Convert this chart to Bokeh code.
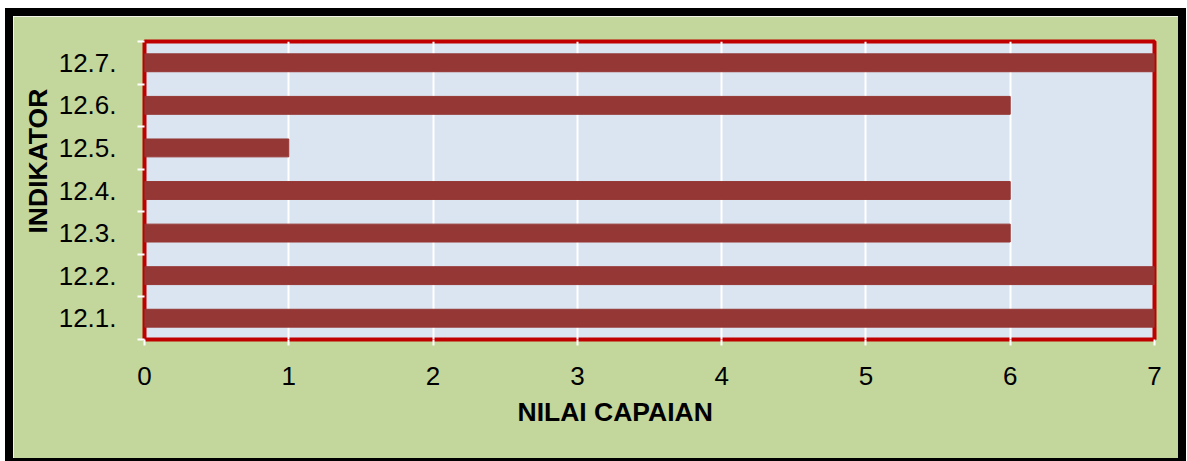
from bokeh.plotting import figure
from bokeh.models import ColumnDataSource, FixedTicker, Range1d, Title
from bokeh.embed import file_html
from bokeh.resources import INLINE

categories = ["12.1.", "12.2.", "12.3.", "12.4.", "12.5.", "12.6.", "12.7."]
values = [7, 7, 6, 6, 1, 6, 7]
x_ticks = [0, 1, 2, 3, 4, 5, 6, 7]
x_title = "NILAI CAPAIAN"
y_title = "INDIKATOR"

positions = list(range(1, len(categories) + 1))
src = ColumnDataSource(dict(y=positions, v=values, cat=categories))

FONT = "Liberation Sans"
GREEN = "#C3D69B"

p = figure(width=1165, height=442, output_backend="svg", toolbar_location=None,
           x_range=Range1d(0, 7), y_range=Range1d(0.5, len(categories) + 0.5),
           min_border_left=131, min_border_top=25, min_border_right=24, min_border_bottom=119,
           frame_width=1010, frame_height=298)
p.styles = {"border": "8px solid black", "border-bottom-width": "3px",
            "margin-left": "5px", "margin-top": "8px"}
p.background_fill_color = "#DBE5F1"
p.border_fill_color = GREEN
p.outline_line_color = "#C00000"
p.outline_line_width = 4

p.hbar(y="y", right="v", left=0, height=0.42, source=src, color="#953735")

# x axis
p.xaxis.ticker = FixedTicker(ticks=x_ticks)
p.xaxis.axis_line_color = None
p.xaxis.major_tick_line_color = "white"
p.xaxis.major_tick_line_width = 2
p.xaxis.major_tick_out = 6
p.xaxis.major_tick_in = 0
p.xaxis.minor_tick_line_color = None
p.xaxis.major_label_standoff = 21
p.xaxis.major_label_text_font = FONT
p.xaxis.major_label_text_font_size = "26px"
p.xaxis.major_label_text_color = "black"

# y axis
p.yaxis.ticker = FixedTicker(ticks=positions,
                             minor_ticks=[i + 0.5 for i in range(len(categories) + 1)])
p.yaxis.major_label_overrides = {pos: c for pos, c in zip(positions, categories)}
p.yaxis.axis_line_color = None
p.yaxis.major_tick_line_color = None
p.yaxis.major_tick_out = 0
p.yaxis.major_tick_in = 0
p.yaxis.minor_tick_line_color = "white"
p.yaxis.minor_tick_line_width = 2
p.yaxis.minor_tick_out = 7
p.yaxis.minor_tick_in = 0
p.yaxis.major_label_standoff = 21
p.yaxis.major_label_text_font = FONT
p.yaxis.major_label_text_font_size = "26px"
p.yaxis.major_label_text_color = "black"

# axis titles (as side titles, shifted like the original)
p.add_layout(Title(text=x_title, align="left", offset=373, standoff=15,
                   text_font=FONT, text_font_size="26.5px", text_font_style="bold",
                   text_color="black"), "below")
p.add_layout(Title(text=y_title, align="left", offset=106, standoff=6,
                   text_font=FONT, text_font_size="26.5px", text_font_style="bold",
                   text_color="black"), "left")

p.xgrid.grid_line_color = "white"
p.xgrid.grid_line_width = 2
p.ygrid.grid_line_color = None

open("out.html", "w").write(file_html(p, INLINE))
